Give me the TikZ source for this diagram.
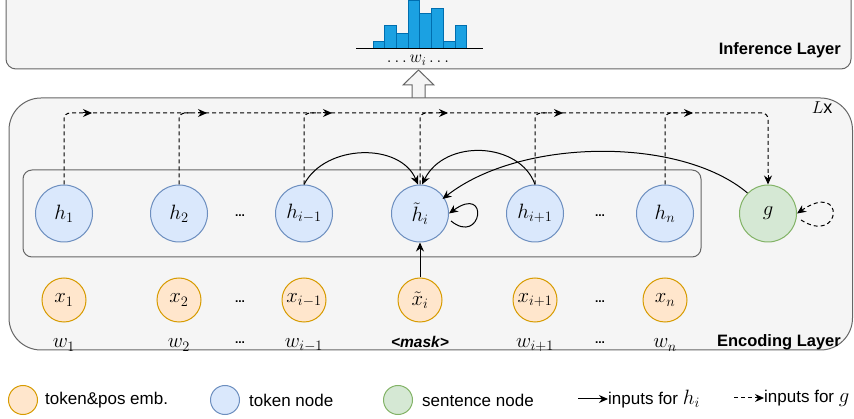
\documentclass[tikz,border=0pt]{standalone}
\usepackage{fontspec}
\setmainfont{Liberation Sans}
\usetikzlibrary{arrows.meta,calc}
\definecolor{boxfill}{HTML}{F5F5F5}
\definecolor{boxline}{HTML}{666666}
\definecolor{tokfill}{HTML}{DAE8FC}
\definecolor{tokline}{HTML}{6C8EBF}
\definecolor{embfill}{HTML}{FFE6CC}
\definecolor{embline}{HTML}{D79B00}
\definecolor{sentfill}{HTML}{D5E8D4}
\definecolor{sentline}{HTML}{82B366}
\definecolor{barfill}{HTML}{1BA1E2}
\definecolor{barline}{HTML}{006EAF}
\begin{document}
\begin{tikzpicture}[x=1pt,y=-1pt,
  layerbox/.style={draw=boxline,fill=boxfill,line width=1pt},
  toknode/.style={circle,draw=tokline,fill=tokfill,line width=1pt,minimum size=57pt,inner sep=0pt,font=\fontsize{21}{23}\selectfont},
  sentnode/.style={circle,draw=sentline,fill=sentfill,line width=1pt,minimum size=57pt,inner sep=0pt,font=\fontsize{21}{23}\selectfont},
  embnode/.style={circle,draw=embline,fill=embfill,line width=1pt,minimum size=44pt,inner sep=0pt,font=\fontsize{19.5}{21}\selectfont},
  wordlabel/.style={inner sep=0pt,font=\fontsize{21}{23}\selectfont},
  dotlabel/.style={inner sep=0pt,font=\bfseries\fontsize{12}{14}\selectfont},
  tip/.style={-{Stealth[length=9pt,width=8pt]}},
  hedge/.style={tip,line width=1pt},
  gedge/.style={line width=1pt,dash pattern=on 4pt off 3pt},
  legtext/.style={anchor=west,inner sep=0pt,font=\fontsize{17}{19}\selectfont},
  legcirc/.style={circle,line width=1pt,minimum size=29pt,inner sep=0pt}]
\clip (0,0) rectangle (854,419);

% ---------- inference layer ----------
\draw[layerbox,rounded corners=10pt] (6,-20) rectangle (851,69);
\node[anchor=east,inner sep=0pt,font=\bfseries\fontsize{16.5}{18}\selectfont] (inflabel) at (841,50) {Inference Layer};
% histogram of the output distribution
\foreach \i/\top in {0/41,1/25,2/33,3/0,4/13,5/8,6/41,7/25}{
  \draw[fill=barfill,draw=barline,line width=0.8pt] (373+\i*11.7,48) rectangle (373+\i*11.7+11.7,\top);
}
\draw[line width=1.2pt] (356,48.5) -- (483,48.5);
\node[inner sep=0pt,font=\fontsize{17.5}{19}\selectfont] (wout) at (418,60) {$\ldots w_i\ldots$};
% hollow arrow from the encoder up to the inference layer
\draw[draw=boxline,fill=boxfill,line width=1pt] (412,99) -- (412,85) -- (403,85) -- (418.5,70) -- (434,85) -- (425,85) -- (425,99);

% ---------- encoding layer ----------
\draw[layerbox,rounded corners=32pt] (9,98) rectangle (852.5,350);
\node[inner sep=0pt,font=\fontsize{18}{20}\selectfont] (times) at (822,108) {$L$x};
\draw[draw=boxline,fill=boxfill,line width=1pt,rounded corners=9pt] (23,170) rectangle (701,257);

% token nodes
\node[toknode] (h1) at (64,213.5) {$h_1$};
\node[toknode] (h2) at (179,213.5) {$h_2$};
\node[toknode] (hm) at (304,213.5) {$h_{i-1}$};
\node[toknode] (ht) at (420,213.5) {$\tilde{h}_i$};
\node[toknode] (hp) at (535,213.5) {$h_{i+1}$};
\node[toknode] (hn) at (665,213.5) {$h_n$};
\node[sentnode] (g) at (768,213.5) {$g$};
\node[dotlabel] (hdotsa) at (240,216) {...};
\node[dotlabel] (hdotsb) at (600,216) {...};

% embeddings
\node[embnode] (x1) at (64,300) {$x_1$};
\node[embnode] (x2) at (179,300) {$x_2$};
\node[embnode] (xm) at (304,300) {$x_{i-1}$};
\node[embnode] (xt) at (420,300) {$\tilde{x}_i$};
\node[embnode] (xp) at (535,300) {$x_{i+1}$};
\node[embnode] (xn) at (665,300) {$x_n$};
\node[dotlabel] (xdotsa) at (240,302) {...};
\node[dotlabel] (xdotsb) at (600,302) {...};

% words
\node[wordlabel] (w1) at (64,345) {$w_1$};
\node[wordlabel] (w2) at (179,345) {$w_2$};
\node[wordlabel] (wm) at (304,345) {$w_{i-1}$};
\node[inner sep=0pt,font=\bfseries\itshape\fontsize{15.5}{17}\selectfont] (wt) at (420,342) {<mask>};
\node[wordlabel] (wp) at (535,345) {$w_{i+1}$};
\node[wordlabel] (wn) at (665,345) {$w_n$};
\node[dotlabel] (wdotsa) at (240,343) {...};
\node[dotlabel] (wdotsb) at (600,343) {...};
\node[anchor=east,inner sep=0pt,font=\bfseries\fontsize{16.5}{18}\selectfont] (enclabel) at (841,342) {Encoding Layer};

% ---------- inputs for g (dashed) ----------
\coordinate (top) at (0,113);
\draw[gedge,rounded corners=6pt] (h1.north) -- (h1.north |- top) -- (g.north |- top) -- ($(g.north)+(0,-8)$);
\draw[tip,line width=1pt] ($(g.north)+(0,-9)$) -- (g.north);
\foreach \n in {h2,hm,ht,hp,hn}{
  \draw[gedge,rounded corners=6pt] (\n.north) -- (\n.north |- top) -- ++(14,0);
}
\foreach \n in {h1,h2,hm,ht,hp,hn}{
  \draw[tip,line width=1pt] ($(\n.north |- top)+(19,0)$) -- ++(9,0);
}
\draw[gedge,-{Stealth[length=9pt,width=8pt]}] (801,220) .. controls (842,246) and (846,180) .. (g.east);

% ---------- inputs for h_i (solid) ----------
\draw[hedge] (xt.north) -- (ht.south);
\draw[hedge] (hm.north) .. controls (325,144) and (400,142) .. ($(ht.north)+(-2,0)$);
\draw[hedge] (hp.north) .. controls (520,142) and (445,138) .. ($(ht.north)+(2,0)$);
\draw[hedge] (g.north west) .. controls (680,136) and (520,138) .. ($(ht.north east)+(2,6)$);
\draw[hedge] (451,221) .. controls (482,246) and (490,184) .. (ht.east);

% ---------- legend ----------
\node[legcirc,draw=embline,fill=embfill] (legx) at (23,400) {};
\node[legtext] (legxt) at (45,400) {token\&pos emb.};
\node[legcirc,draw=tokline,fill=tokfill] (legh) at (225,400) {};
\node[legtext] (leght) at (249,400) {token node};
\node[legcirc,draw=sentline,fill=sentfill] (legg) at (398,400) {};
\node[legtext] (leggt) at (422,400) {sentence node};
\coordinate (legha) at (578,399);
\node[legtext] (leghi) at (608,399) {inputs for \fontsize{22}{24}\selectfont$h_i$};
\draw[hedge] (legha) -- (leghi.west);
\coordinate (legga) at (734,398);
\node[legtext] (leggi) at (764,398) {inputs for \fontsize{22}{24}\selectfont$g$};
\draw[gedge,-{Stealth[length=9pt,width=8pt]}] (legga) -- (leggi.west);
\end{tikzpicture}
\end{document}
